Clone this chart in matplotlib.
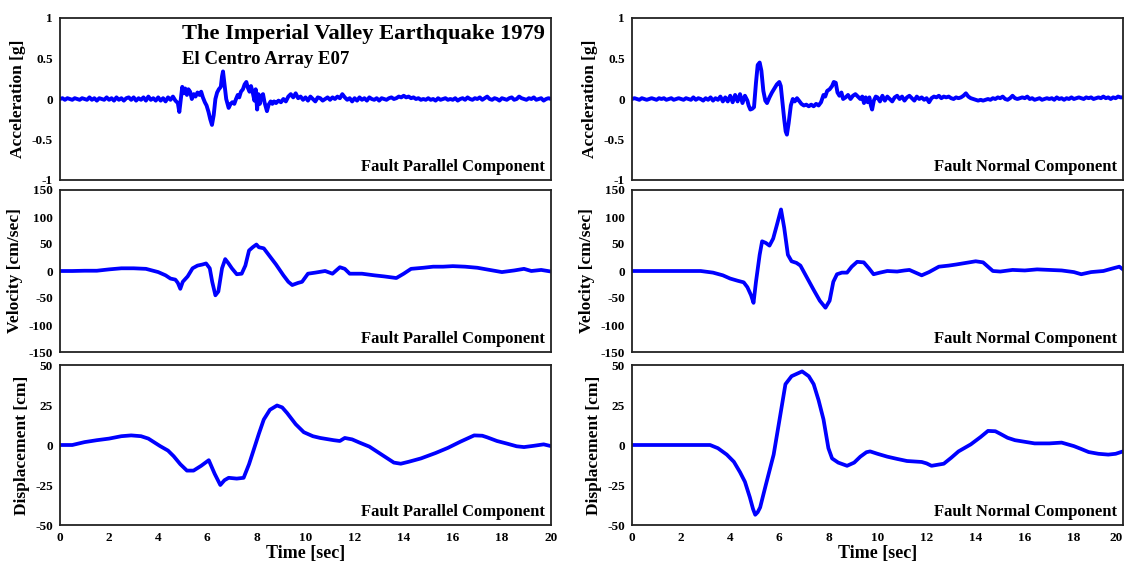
import numpy as np
import matplotlib
matplotlib.use("Agg")
import matplotlib.pyplot as plt
from matplotlib.transforms import ScaledTranslation

plt.rcParams['font.family'] = ['Liberation Serif', 'DejaVu Serif']
plt.rcParams['font.weight'] = 'bold'

# ---------------- DATA ----------------
# Fault parallel acceleration [g]
acc_fp_quiet1 = [0.00, 0.01, -0.01, 0.01, 0.00, -0.01, 0.01, 0.00, -0.01, 0.01,
                 0.00, -0.01, 0.02, -0.01, 0.01, -0.02, 0.01, 0.00, -0.01, 0.02,
                 -0.01, 0.01, -0.02, 0.02, -0.01, 0.01, -0.02, 0.01, 0.02, -0.01,
                 0.02, -0.02, 0.01, -0.01, 0.02, -0.02, 0.03, -0.01, 0.01, -0.02,
                 0.02, -0.02, 0.01, -0.03, 0.02, -0.01, 0.03, -0.02]  # t = 0.0 .. 4.7
acc_fp_event = [(4.8, -0.05), (4.86, -0.16), (4.93, 0.02), (4.98, 0.15), (5.05, 0.07), (5.1, 0.13),
                (5.17, 0.05), (5.23, 0.12), (5.3, 0.09), (5.37, 0.0), (5.45, 0.06), (5.52, 0.03),
                (5.6, 0.08), (5.68, 0.05), (5.75, 0.09), (5.82, 0.02), (5.9, -0.04), (5.97, -0.08),
                (6.05, -0.16), (6.12, -0.25), (6.19, -0.32), (6.26, -0.2), (6.33, 0.0), (6.4, 0.08),
                (6.47, 0.12), (6.55, 0.15), (6.6, 0.28), (6.64, 0.34), (6.7, 0.18), (6.77, 0.0),
                (6.87, -0.11), (6.95, -0.06), (7.02, -0.04), (7.1, -0.06), (7.17, 0.0), (7.24, 0.05),
                (7.3, 0.02), (7.37, 0.09), (7.45, 0.12), (7.52, 0.18), (7.59, 0.21), (7.65, 0.14),
                (7.72, 0.09), (7.78, 0.16), (7.85, 0.08), (7.92, -0.02), (7.97, 0.12), (8.03, -0.13),
                (8.08, 0.06), (8.14, -0.06), (8.2, 0.04), (8.27, 0.06), (8.33, -0.04), (8.43, -0.15),
                (8.5, -0.07), (8.58, -0.03), (8.65, -0.06), (8.72, -0.03)]
acc_fp_quiet2 = [-0.05, -0.02,
                 -0.04, 0.00, -0.03, 0.03, 0.06, 0.02, 0.07, 0.01, 0.03, -0.01,
                 0.02, -0.02, 0.03, 0.00, -0.03, 0.02, 0.01, -0.02, 0.00, 0.02,
                 -0.01, 0.02, 0.00, 0.03, 0.01, 0.06, 0.02, -0.01, 0.01, -0.03,
                 0.01, -0.02, 0.02, -0.01, 0.01, -0.02, 0.02, 0.00, -0.01, 0.01,
                 -0.02, 0.01, 0.00, -0.01, 0.01, 0.02, 0.00, 0.01, 0.03, 0.02,
                 0.04, 0.02, 0.03, 0.01, 0.02, 0.00, 0.01, -0.01, 0.00, -0.01,
                 0.01, -0.01, 0.00, -0.02, 0.01, -0.01, 0.00, 0.01, -0.01, 0.00,
                 -0.01, 0.01, -0.02, 0.00, 0.01, -0.01, 0.02, 0.00, -0.01, 0.01,
                 0.00, 0.02, -0.01, 0.01, 0.03, 0.00, -0.01, 0.01, 0.00, -0.02,
                 0.01, 0.00, -0.01, 0.01, 0.02, -0.01, 0.00, 0.03, 0.01, 0.00,
                 -0.01, 0.01, 0.00, 0.02, -0.01, 0.00, 0.01, -0.02, 0.00, 0.01,
                 0.00]  # t = 8.8 .. 20.0

# Fault normal acceleration [g]
acc_fn_quiet1 = [0.00, 0.01, 0.00, -0.01, 0.01, 0.00, -0.01, 0.00, 0.01, 0.00,
                 -0.01, 0.01, 0.00, 0.01, -0.01, 0.00, 0.01, -0.01, 0.00, 0.01,
                 0.00, -0.01, 0.01, 0.00, -0.01, 0.02, -0.01, 0.01, 0.00, -0.02,
                 0.01, -0.01, 0.02, -0.02, 0.01, -0.01, 0.03, -0.03, 0.02, -0.03,
                 0.04, -0.04, 0.05, -0.03, 0.06, -0.05, 0.04, -0.02]  # t = 0.0 .. 4.7
acc_fn_event = [(4.75, -0.08), (4.82, -0.13), (4.9, -0.12), (4.97, -0.10), (5.05, 0.2), (5.12, 0.42),
                (5.2, 0.45), (5.27, 0.35), (5.35, 0.1), (5.43, -0.02), (5.5, -0.05), (5.6, 0.02),
                (5.7, 0.08), (5.8, 0.13), (5.9, 0.18), (6.0, 0.21), (6.06, 0.16), (6.13, -0.05),
                (6.2, -0.25), (6.26, -0.4), (6.31, -0.44), (6.38, -0.3), (6.47, -0.08), (6.55, 0.0),
                (6.63, -0.03), (6.72, 0.01), (6.8, -0.02), (6.9, -0.06), (7.0, -0.08), (7.1, -0.07),
                (7.2, -0.09), (7.3, -0.07), (7.4, -0.09), (7.5, -0.06), (7.6, -0.08), (7.7, -0.04),
                (7.8, 0.05), (7.87, 0.03), (7.95, 0.1), (8.05, 0.12), (8.15, 0.16), (8.22, 0.21),
                (8.3, 0.2), (8.37, 0.08), (8.45, 0.04), (8.53, 0.08), (8.6, 0.0), (8.7, 0.02),
                (8.8, 0.05), (8.9, 0.0), (9.0, 0.04), (9.1, 0.06), (9.2, 0.03), (9.3, 0.0),
                (9.38, 0.03), (9.45, -0.05), (9.52, 0.02), (9.6, -0.04), (9.67, 0.02), (9.73, -0.08),
                (9.78, -0.13), (9.85, -0.02), (9.93, 0.03)]
acc_fn_quiet2 = [0.02, -0.03, 0.04, -0.02, 0.03, 0.00, -0.03, 0.02, 0.04, 0.00,
                 0.03, -0.02, 0.02, 0.04, 0.01, -0.02, 0.03, 0.00, 0.02, -0.01,
                 0.01, -0.04, 0.01, 0.03, 0.02, 0.04, 0.01, 0.03, 0.02, 0.03,
                 0.01, 0.00, 0.02, 0.01, 0.02, 0.04, 0.07, 0.03, 0.01, 0.00,
                 -0.01, -0.02, -0.01, -0.02, -0.01, 0.00, -0.01, 0.01, 0.00, 0.02,
                 0.01, 0.03, 0.00, -0.01, 0.01, 0.04, 0.01, 0.00, 0.01, 0.02,
                 0.01, 0.03, 0.00, 0.01, -0.01, 0.00, 0.01, -0.01, 0.00, 0.01,
                 0.00, 0.01, -0.01, 0.02, 0.00, 0.01, -0.01, 0.01, 0.00, 0.02,
                 0.00, 0.01, 0.02, 0.01, 0.00, 0.02, 0.01, 0.02, 0.00, 0.01,
                 0.02, 0.01, 0.03, 0.01, 0.02, 0.00, 0.02, 0.01, 0.03, 0.02,
                 0.02]  # t = 10.0 .. 20.0

# Velocity [cm/sec]
vel_fp = [(0, 0), (0.5, 0), (1, 0.5), (1.5, 0.5), (2, 3), (2.5, 5), (3, 5), (3.5, 4), (4, -2),
          (4.3, -8), (4.5, -14), (4.7, -16), (4.8, -22), (4.9, -33), (5.0, -20), (5.2, -10),
          (5.4, 5), (5.6, 10), (5.8, 12), (5.95, 14), (6.1, 5), (6.2, -20), (6.33, -45),
          (6.45, -38), (6.6, 5), (6.73, 22), (6.85, 15), (7.0, 5), (7.2, -6), (7.4, -5),
          (7.55, 10), (7.7, 38), (7.85, 44), (8.0, 49), (8.1, 44), (8.3, 42), (8.5, 30),
          (8.8, 12), (9.1, -8), (9.3, -20), (9.46, -26), (9.7, -22), (9.86, -20), (10.1, -5),
          (10.4, -3), (10.8, 0), (11.1, -5), (11.4, 7), (11.6, 4), (11.8, -5), (12.3, -5),
          (12.8, -8), (13.2, -10), (13.7, -13), (14.0, -5), (14.3, 4), (14.8, 6), (15.2, 8),
          (15.6, 8), (16.0, 9), (16.5, 8), (17.0, 6), (17.5, 2), (18.0, -2), (18.5, 1),
          (18.9, 4), (19.2, 0), (19.6, 2), (20, -1)]
vel_fn = [(0, 0), (2.8, 0), (3.3, -3), (3.7, -8), (4.0, -14), (4.3, -18), (4.55, -21), (4.7, -30),
          (4.85, -45), (4.95, -59), (5.05, -20), (5.2, 30), (5.3, 55), (5.45, 52), (5.6, 47),
          (5.75, 60), (5.9, 85), (6.07, 114), (6.2, 80), (6.35, 30), (6.5, 18), (6.7, 15),
          (6.86, 10), (7.1, -10), (7.4, -35), (7.65, -55), (7.88, -68), (8.05, -55), (8.2, -20),
          (8.35, -6), (8.55, -3), (8.76, -3), (8.95, 8), (9.17, 17), (9.44, 16), (9.65, 5),
          (9.84, -6), (10.1, -3), (10.4, 0), (10.8, -1), (11.1, 1), (11.3, 2), (11.5, -2),
          (11.8, -8), (12.1, -2), (12.5, 8), (12.9, 10), (13.2, 12), (13.6, 15), (14.0, 18),
          (14.3, 16), (14.7, 0), (15.0, -1), (15.5, 2), (16.0, 1), (16.5, 3), (17.0, 2),
          (17.5, 1), (18.0, -2), (18.3, -6), (18.7, -2), (19.2, 0), (19.6, 5), (19.85, 8), (20, 3)]

# Displacement [cm]
disp_fp = [(0, 0), (0.5, 0), (1, 1.8), (1.5, 3), (2, 4), (2.5, 5.5), (2.9, 6), (3.3, 5.5), (3.6, 4),
           (4.08, -0.7), (4.4, -3.5), (4.63, -7), (4.9, -12), (5.17, -16), (5.44, -16), (5.75, -13),
           (6.06, -9.5), (6.3, -18), (6.53, -25), (6.7, -22), (6.87, -20.5), (7.2, -21), (7.48, -20.5),
           (7.7, -12), (7.89, -3), (8.1, 7), (8.3, 15.9), (8.55, 22), (8.84, 24.7), (9.05, 23.5),
           (9.25, 20), (9.6, 13), (9.93, 8), (10.3, 5.5), (10.6, 4.4), (11.15, 3), (11.4, 2.5),
           (11.6, 4.4), (11.9, 3.5), (12.2, 1.5), (12.6, -1), (12.9, -4), (13.3, -8), (13.6, -11),
           (13.88, -11.7), (14.2, -10.5), (14.7, -8.4), (15.3, -5), (15.8, -1.8), (16.3, 2),
           (16.87, 6), (17.2, 5.8), (17.4, 4.8), (17.8, 2.5), (18.2, 0.9), (18.6, -0.8),
           (18.9, -1.3), (19.3, -0.5), (19.7, 0.4), (20, -0.7)]
disp_fn = [(0, 0), (3.18, 0), (3.5, -2), (3.86, -6), (4.15, -10.5), (4.4, -17), (4.6, -23),
           (4.8, -32.7), (4.93, -40), (5.02, -43.6), (5.12, -42), (5.22, -39), (5.45, -25),
           (5.77, -6), (6.0, 15), (6.25, 38), (6.5, 43), (6.93, 46), (7.2, 43), (7.4, 38),
           (7.6, 28), (7.8, 16), (8.0, -2), (8.15, -8.4), (8.4, -11), (8.76, -13), (9.05, -11),
           (9.3, -7.3), (9.55, -4.5), (9.7, -4), (10.0, -5.5), (10.4, -7.3), (10.8, -8.7),
           (11.2, -10), (11.8, -10.6), (12.0, -11.5), (12.2, -13), (12.7, -11.7), (13.0, -8),
           (13.3, -4), (13.8, 0.4), (14.2, 5), (14.5, 8.8), (14.8, 8.6), (15.0, 7), (15.3, 4.5),
           (15.6, 3), (16.0, 2), (16.4, 1), (17.0, 1), (17.5, 1.5), (18.0, -0.7), (18.3, -2.5),
           (18.6, -4.4), (19.0, -5.5), (19.4, -6), (19.7, -5.5), (20, -4)]

title_text = "The Imperial Valley Earthquake 1979"
station_text = "El Centro Array E07"
comp_labels = ["Fault Parallel Component", "Fault Normal Component"]
row_labels = ["Acceleration [g]", "Velocity [cm/sec]", "Displacement [cm]"]
row_ticks = [[-1, -0.5, 0, 0.5, 1], [-150, -100, -50, 0, 50, 100, 150], [-50, -25, 0, 25, 50]]
row_tick_labels = [["-1", "-0.5", "0", "0.5", "1"],
                   ["-150", "-100", "-50", "0", "50", "100", "150"],
                   ["-50", "-25", "0", "25", "50"]]
x_ticks = [0, 2, 4, 6, 8, 10, 12, 14, 16, 18, 20]


def build_acc(q1, ev, q2, q2_start):
    t1 = np.round(np.arange(len(q1)) * 0.1, 2)
    te = np.array([p[0] for p in ev])
    ve = np.array([p[1] for p in ev])
    t2 = np.round(q2_start + np.arange(len(q2)) * 0.1, 2)
    return np.concatenate([t1, te, t2]), np.concatenate([q1, ve, q2])


def split(pairs):
    return np.array([p[0] for p in pairs]), np.array([p[1] for p in pairs])


series = [
    [build_acc(acc_fp_quiet1, acc_fp_event, acc_fp_quiet2, 8.8),
     build_acc(acc_fn_quiet1, acc_fn_event, acc_fn_quiet2, 10.0)],
    [split(vel_fp), split(vel_fn)],
    [split(disp_fp), split(disp_fn)],
]

W, H = 1124, 562
fig = plt.figure(figsize=(W / 100, H / 100), dpi=100)

col_left = [60, 632]
ax_w = 491
row_top = [18, 190, 365]
row_bot = [180, 352, 525]

for r in range(3):
    for c in range(2):
        l = col_left[c] / W
        b = 1 - row_bot[r] / H
        h = (row_bot[r] - row_top[r]) / H
        ax = fig.add_axes([l, b, ax_w / W, h])
        t, v = series[r][c]
        ax.plot(t, v, color='#0000ff', lw=2.8 if r == 0 else 2.7, solid_joinstyle='round')
        ax.set_xlim(0, 20)
        lim = row_ticks[r][-1]
        ax.set_ylim(-lim, lim)
        ax.set_yticks(row_ticks[r])
        ylabs = ax.set_yticklabels(row_tick_labels[r], fontsize=9.5, fontweight='bold')
        # nudge the extreme labels apart so neighbouring panels do not collide
        if r < 2:
            ylabs[0].set_transform(ylabs[0].get_transform() +
                                   ScaledTranslation(0, 3 / 100, fig.dpi_scale_trans))
        if r > 0:
            ylabs[-1].set_transform(ylabs[-1].get_transform() +
                                    ScaledTranslation(0, -3 / 100, fig.dpi_scale_trans))
        ax.set_xticks(x_ticks)
        if r == 2:
            labs = ax.set_xticklabels([str(x) for x in x_ticks], fontsize=9.5, fontweight='bold')
            if c == 1:
                labs[-1].set_horizontalalignment('right')
            ax.set_xlabel("Time [sec]", fontsize=13, fontweight='bold', labelpad=1)
        else:
            ax.set_xticklabels([])
        ax.tick_params(length=0, pad=5)
        for s in ax.spines.values():
            s.set_linewidth(1.3)
            s.set_color('#222222')
        ax.set_ylabel(row_labels[r], fontsize=12.5, fontweight='bold', labelpad=4)
        ax.text(0.988, 0.08, comp_labels[c], transform=ax.transAxes, ha='right', va='center',
                fontsize=12, fontweight='bold')
        if r == 0 and c == 0:
            ax.text(0.988, 0.90, title_text, transform=ax.transAxes, ha='right', va='center',
                    fontsize=16.2, fontweight='bold')
            ax.text(0.248, 0.745, station_text, transform=ax.transAxes, ha='left', va='center',
                    fontsize=13.5, fontweight='bold')

fig.savefig("out.png", dpi=100)
